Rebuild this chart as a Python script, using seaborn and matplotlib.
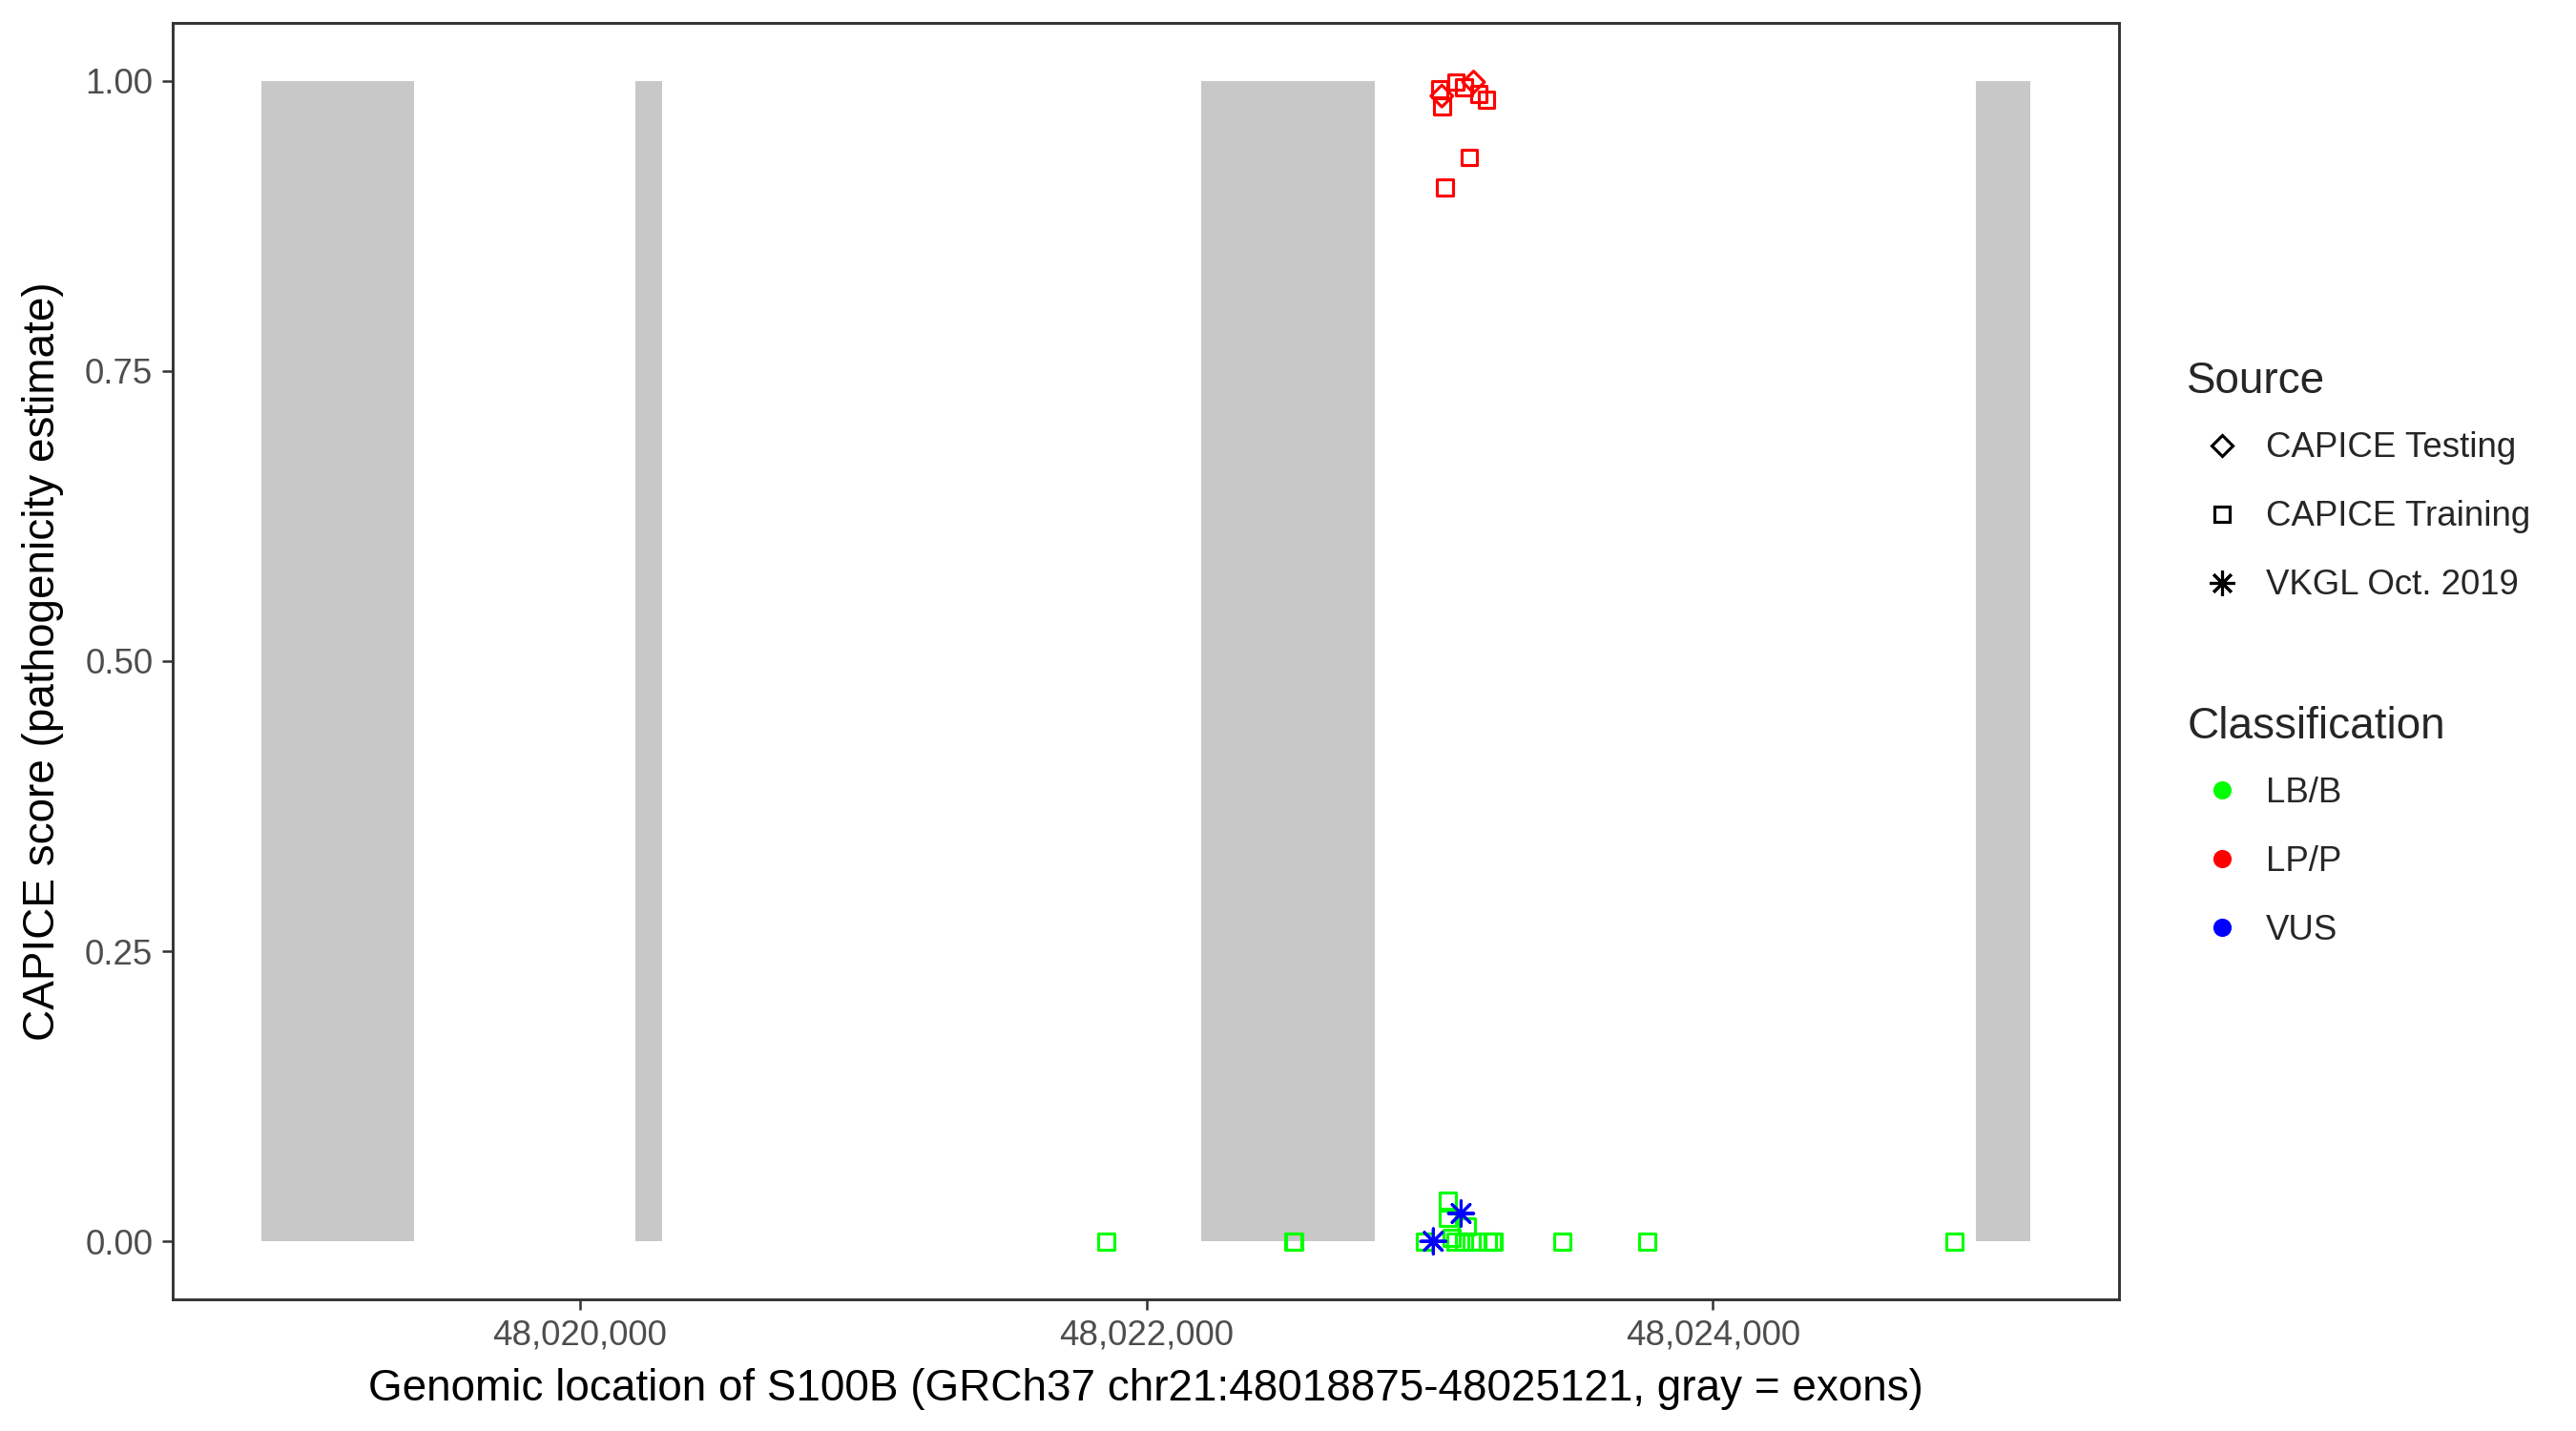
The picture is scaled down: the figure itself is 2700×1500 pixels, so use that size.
import numpy as np
import pandas as pd
import matplotlib
matplotlib.use('Agg')
import matplotlib.pyplot as plt
from matplotlib.lines import Line2D
from matplotlib.ticker import FuncFormatter
import seaborn as sns

# Exons of S100B (GRCh37 chr21)
exon_start = [48018875, 48020195, 48022192, 48024929]
exon_end = [48019414, 48020290, 48022805, 48025121]

# CAPICE Training variants
train_pos = [48021859, 48022519, 48022522, 48022983, 48023064, 48023064, 48023077,
             48023090, 48023121, 48023131, 48023165, 48023205, 48023222, 48023225,
             48023468, 48023768, 48024852,
             48023035, 48023043, 48023093, 48023121, 48023174, 48023200, 48023140, 48023054]
train_score = [0.0, 0.0, 0.0, 0.0, 0.035, 0.020, 0.003,
               0.0, 0.0, 0.013, 0.0, 0.0, 0.0, 0.0,
               0.0, 0.0, 0.0,
               0.993, 0.978, 0.999, 0.9945, 0.989, 0.984, 0.934, 0.908]
train_class = ['LB/B'] * 17 + ['LP/P'] * 8

# CAPICE Testing variants
test_pos = [48023043, 48023155]
test_score = [0.987, 0.999]
test_class = ['LP/P', 'LP/P']

# VKGL Oct. 2019 variants
vkgl_pos = [48023013, 48023111]
vkgl_score = [0.0, 0.024]
vkgl_class = ['VUS', 'VUS']

sources = ['CAPICE Testing', 'CAPICE Training', 'VKGL Oct. 2019']
classes = ['LB/B', 'LP/P', 'VUS']
class_colors = {'LB/B': '#00FF00', 'LP/P': '#FF0000', 'VUS': '#0000FF'}

train_df = pd.DataFrame({'pos': train_pos, 'score': train_score, 'cls': train_class})
test_df = pd.DataFrame({'pos': test_pos, 'score': test_score, 'cls': test_class})
vkgl_df = pd.DataFrame({'pos': vkgl_pos, 'score': vkgl_score, 'cls': vkgl_class})

sns.set_theme(style='white')
plt.rcParams['font.family'] = ['Liberation Sans', 'DejaVu Sans']

fig = plt.figure(figsize=(9, 5), dpi=300)
ax = fig.add_axes([0.067, 0.092, 0.7556, 0.892])

# exons as gray blocks
ax.bar(exon_start, [1.0] * len(exon_start),
       width=np.array(exon_end) - np.array(exon_start),
       align='edge', color='#C8C8C8', linewidth=0, zorder=1)

asterisk = (8, 2, 0)
for df, mk, sz in [(train_df, 's', 16), (test_df, 'D', 15), (vkgl_df, asterisk, 40)]:
    n_before = len(ax.collections)
    sns.scatterplot(data=df, x='pos', y='score', hue='cls', palette=class_colors,
                    marker=mk, s=sz, legend=False, ax=ax, zorder=3)
    # open markers: outline in the class colour
    for coll in ax.collections[n_before:]:
        fc = coll.get_facecolors()
        coll.set_edgecolors(fc)
        coll.set_facecolors('none')
        coll.set_linewidths(0.75)

ax.set_xlim(48018875 - 0.05 * (48025121 - 48018875), 48025121 + 0.05 * (48025121 - 48018875))
ax.set_ylim(-0.05, 1.05)
ax.set_xticks([48020000, 48022000, 48024000])
ax.xaxis.set_major_formatter(FuncFormatter(lambda v, p: f'{int(v):,}'))
ax.set_yticks([0, 0.25, 0.5, 0.75, 1.0])
ax.yaxis.set_major_formatter(FuncFormatter(lambda v, p: f'{v:.2f}'))
ax.tick_params(axis='both', direction='out', length=2.75, width=0.6, color='#333333',
               labelsize=8.8, labelcolor='#4D4D4D', pad=2.2, bottom=True, left=True)
for sp in ax.spines.values():
    sp.set_color('#333333')
    sp.set_linewidth(0.7)
ax.grid(False)

ax.set_xlabel('Genomic location of S100B (GRCh37 chr21:48018875-48025121, gray = exons)',
              fontsize=11, color='black', labelpad=4)
ax.set_ylabel('CAPICE score (pathogenicity estimate)', fontsize=11, color='black', labelpad=5.2)

# legends
src_handles = [
    Line2D([], [], linestyle='none', marker='D', markersize=3.9, markerfacecolor='none',
           markeredgecolor='black', markeredgewidth=0.75),
    Line2D([], [], linestyle='none', marker='s', markersize=3.9, markerfacecolor='none',
           markeredgecolor='black', markeredgewidth=0.75),
    Line2D([], [], linestyle='none', marker=asterisk, markersize=6.3,
           markeredgecolor='black', markeredgewidth=0.75),
]
cls_handles = [Line2D([], [], linestyle='none', marker='o', markersize=4.6,
                      markerfacecolor=class_colors[c], markeredgewidth=0) for c in classes]

leg_kw = dict(loc='upper left', frameon=False, alignment='left', title_fontsize=11,
              fontsize=8.8, handlelength=2.0, handletextpad=0.25, labelspacing=1.01,
              borderpad=0, borderaxespad=0)
leg1 = fig.legend(src_handles, sources, title='Source', bbox_to_anchor=(0.849, 0.748), **leg_kw)
leg2 = fig.legend(cls_handles, classes, title='Classification', bbox_to_anchor=(0.849, 0.507), **leg_kw)
for leg in (leg1, leg2):
    leg._legend_box.sep = 1.01 * 8.8 - 1.6

fig.savefig('out.png', dpi=300)
